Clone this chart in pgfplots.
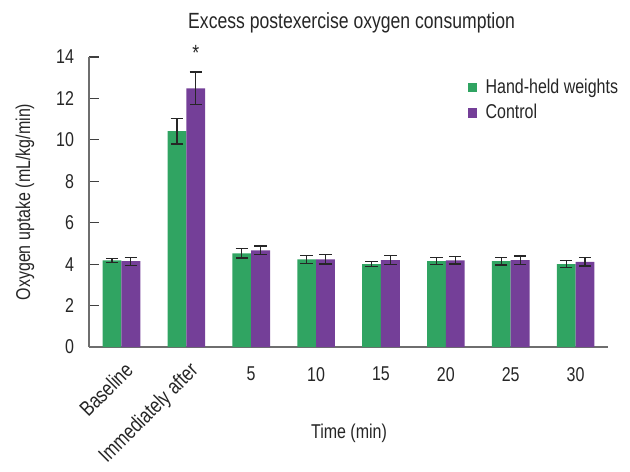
\documentclass[border=0pt]{standalone}
\usepackage{pgfplots}
\pgfplotsset{compat=1.18}
\usepackage{pgfplotstable}
\usepackage{fontspec}
\setmainfont{Liberation Sans}[FakeStretch=0.8]
\definecolor{hhgreen}{RGB}{48,164,98}
\definecolor{ctpurple}{RGB}{116,63,152}
\definecolor{axgray}{RGB}{110,110,110}
\pgfplotstableread{
x g gerr c cerr
0 4.18 0.10 4.14 0.19
1 10.42 0.62 12.49 0.79
2 4.52 0.22 4.67 0.21
3 4.23 0.19 4.23 0.22
4 4.00 0.11 4.20 0.21
5 4.15 0.17 4.18 0.17
6 4.14 0.18 4.19 0.20
7 4.00 0.17 4.11 0.20
}\datatable
\begin{document}
\begin{tikzpicture}
\path[use as bounding box] (-44.5pt,-62pt) rectangle (270.5pt,173.5pt);
\begin{axis}[
  scale only axis,
  width=259.5pt, height=145pt,
  xmin=-0.5, xmax=7.5,
  ymin=0, ymax=14,
  ytick={0,2,...,14},
  axis lines=left,
  axis line style={-, draw=axgray, line width=0.7pt},
  tick align=inside,
  major tick length=5pt,
  ytick style={draw=black!75, line width=0.6pt},
  xtick style={draw=none},
  xtick={2,3,4,5,6,7},
  xticklabels={5,10,15,20,25,30},
  extra x ticks={0,1},
  extra x tick labels={Baseline,Immediately after},
  extra x tick style={major tick length=0pt, xticklabel style={yshift=4.5pt, xshift=1pt, rotate=45, anchor=north east, font=\fontsize{10.6}{12}\selectfont}},
  xticklabel style={yshift=-6.5pt},
  yticklabel style={xshift=-4pt},
  /pgf/number format/assume math mode=true,
  tick label style={font=\fontsize{10}{12}\selectfont, text=black!85},
  label style={font=\fontsize{10}{12}\selectfont, text=black!85},
  xlabel={Time (min)},
  ylabel={Oxygen uptake (mL/kg/min)},
  xlabel style={at={(axis description cs:0.501,-0.2966)}, anchor=center},
  ylabel style={at={(axis description cs:-0.1233,0.5)}, anchor=center, rotate=0},
  clip=false,
  legend style={at={(axis description cs:0.729,0.94)}, anchor=north west, draw=none, fill=none,
    font=\fontsize{10}{12}\selectfont, text=black!85, row sep=0pt, inner sep=0pt},
  legend cell align=left,
  legend image code/.code={\fill[#1] (0pt,-2.3pt) rectangle (4.6pt,2.3pt); \path (6.9pt,0pt);},
]
\addplot[ybar, bar width=0.29, bar shift=0, fill=hhgreen, draw=none,
  error bars/.cd, y dir=both, y explicit,
  error bar style={black!85, line width=0.6pt},
  error mark options={rotate=90, mark size=3.1pt, black!85, line width=0.6pt}]
  table[x expr=\thisrow{x}-0.145, y=g, y error=gerr] {\datatable};
\addlegendentry{Hand-held weights}
\addplot[ybar, bar width=0.29, bar shift=0, fill=ctpurple, draw=none,
  error bars/.cd, y dir=both, y explicit,
  error bar style={black!85, line width=0.6pt},
  error mark options={rotate=90, mark size=3.1pt, black!85, line width=0.6pt}]
  table[x expr=\thisrow{x}+0.145, y=c, y error=cerr] {\datatable};
\addlegendentry{Control}
\node[font=\fontsize{11}{13}\selectfont, text=black!85] at (axis cs:1.145,14.2) {*};
\node[font=\fontsize{11}{13}\selectfont, text=black!85] at (axis description cs:0.506,1.119) {Excess postexercise oxygen consumption};
\end{axis}
\end{tikzpicture}
\end{document}
